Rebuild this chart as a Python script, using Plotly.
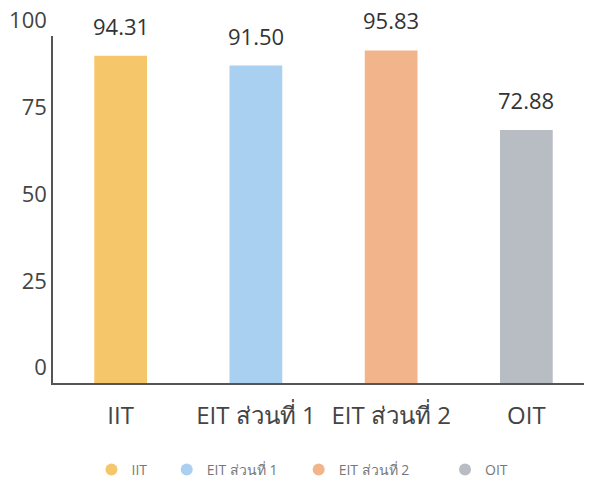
import plotly.graph_objects as go

categories = ["IIT", "EIT ส่วนที่ 1", "EIT ส่วนที่ 2", "OIT"]
values = [94.31, 91.50, 95.83, 72.88]
value_labels = ["94.31", "91.50", "95.83", "72.88"]
colors = ["#F6C66A", "#A9D0F0", "#F1B48B", "#B8BDC4"]
y_ticks = [0, 25, 50, 75, 100]
legend_x = [0.0711, 0.2102, 0.4541, 0.7246]

FONT = "Open Sans, Noto Sans, DejaVu Sans, sans-serif"

fig = go.Figure()
for i, (c, v, col) in enumerate(zip(categories, values, colors)):
    lg = "legend" if i == 0 else f"legend{i+1}"
    fig.add_trace(go.Bar(
        x=[c], y=[v], name=c, marker_color=col, width=0.39,
        marker_line_width=0, showlegend=False,
    ))
    fig.add_trace(go.Scatter(
        x=[c], y=[None], mode="markers", name=c, legend=lg,
        marker=dict(color=col, size=12, symbol="circle"),
    ))

for c, v, t in zip(categories, values, value_labels):
    fig.add_annotation(x=c, y=v, text=t, showarrow=False, yanchor="bottom",
                       yshift=13, font=dict(size=22, color="#333333", family=FONT))

legend_common = dict(xref="paper", yref="paper", xanchor="left",
                     yanchor="middle", y=-0.2507, bgcolor="rgba(0,0,0,0)",
                     font=dict(size=14, color="#777777", family=FONT))
legends = {}
for i, lx in enumerate(legend_x):
    key = "legend" if i == 0 else f"legend{i+1}"
    legends[key] = dict(legend_common, x=lx)

fig.update_layout(
    width=592, height=484,
    margin=dict(l=45, r=6, t=28, b=109, autoexpand=False),
    paper_bgcolor="white", plot_bgcolor="white",
    barmode="overlay",
    font=dict(family=FONT, color="#444444"),
    xaxis=dict(type="category", categoryorder="array", categoryarray=categories,
               range=[-0.5, len(categories) - 0.5],
               showline=True, linecolor="#555555", linewidth=1.5,
               tickfont=dict(size=24, color="#444444"), ticks="",
               ticklabelstandoff=10, showgrid=False, zeroline=False),
    yaxis=dict(range=[0, 100], tickvals=y_ticks, showline=True,
               linecolor="#555555", linewidth=1.5, showgrid=False,
               zeroline=False, ticks="", ticklabelstandoff=0,
               ticklabelposition="outside top", ticklabeloverflow="allow",
               tickfont=dict(size=22, color="#444444")),
    **legends,
)

fig.write_html("out.html")
